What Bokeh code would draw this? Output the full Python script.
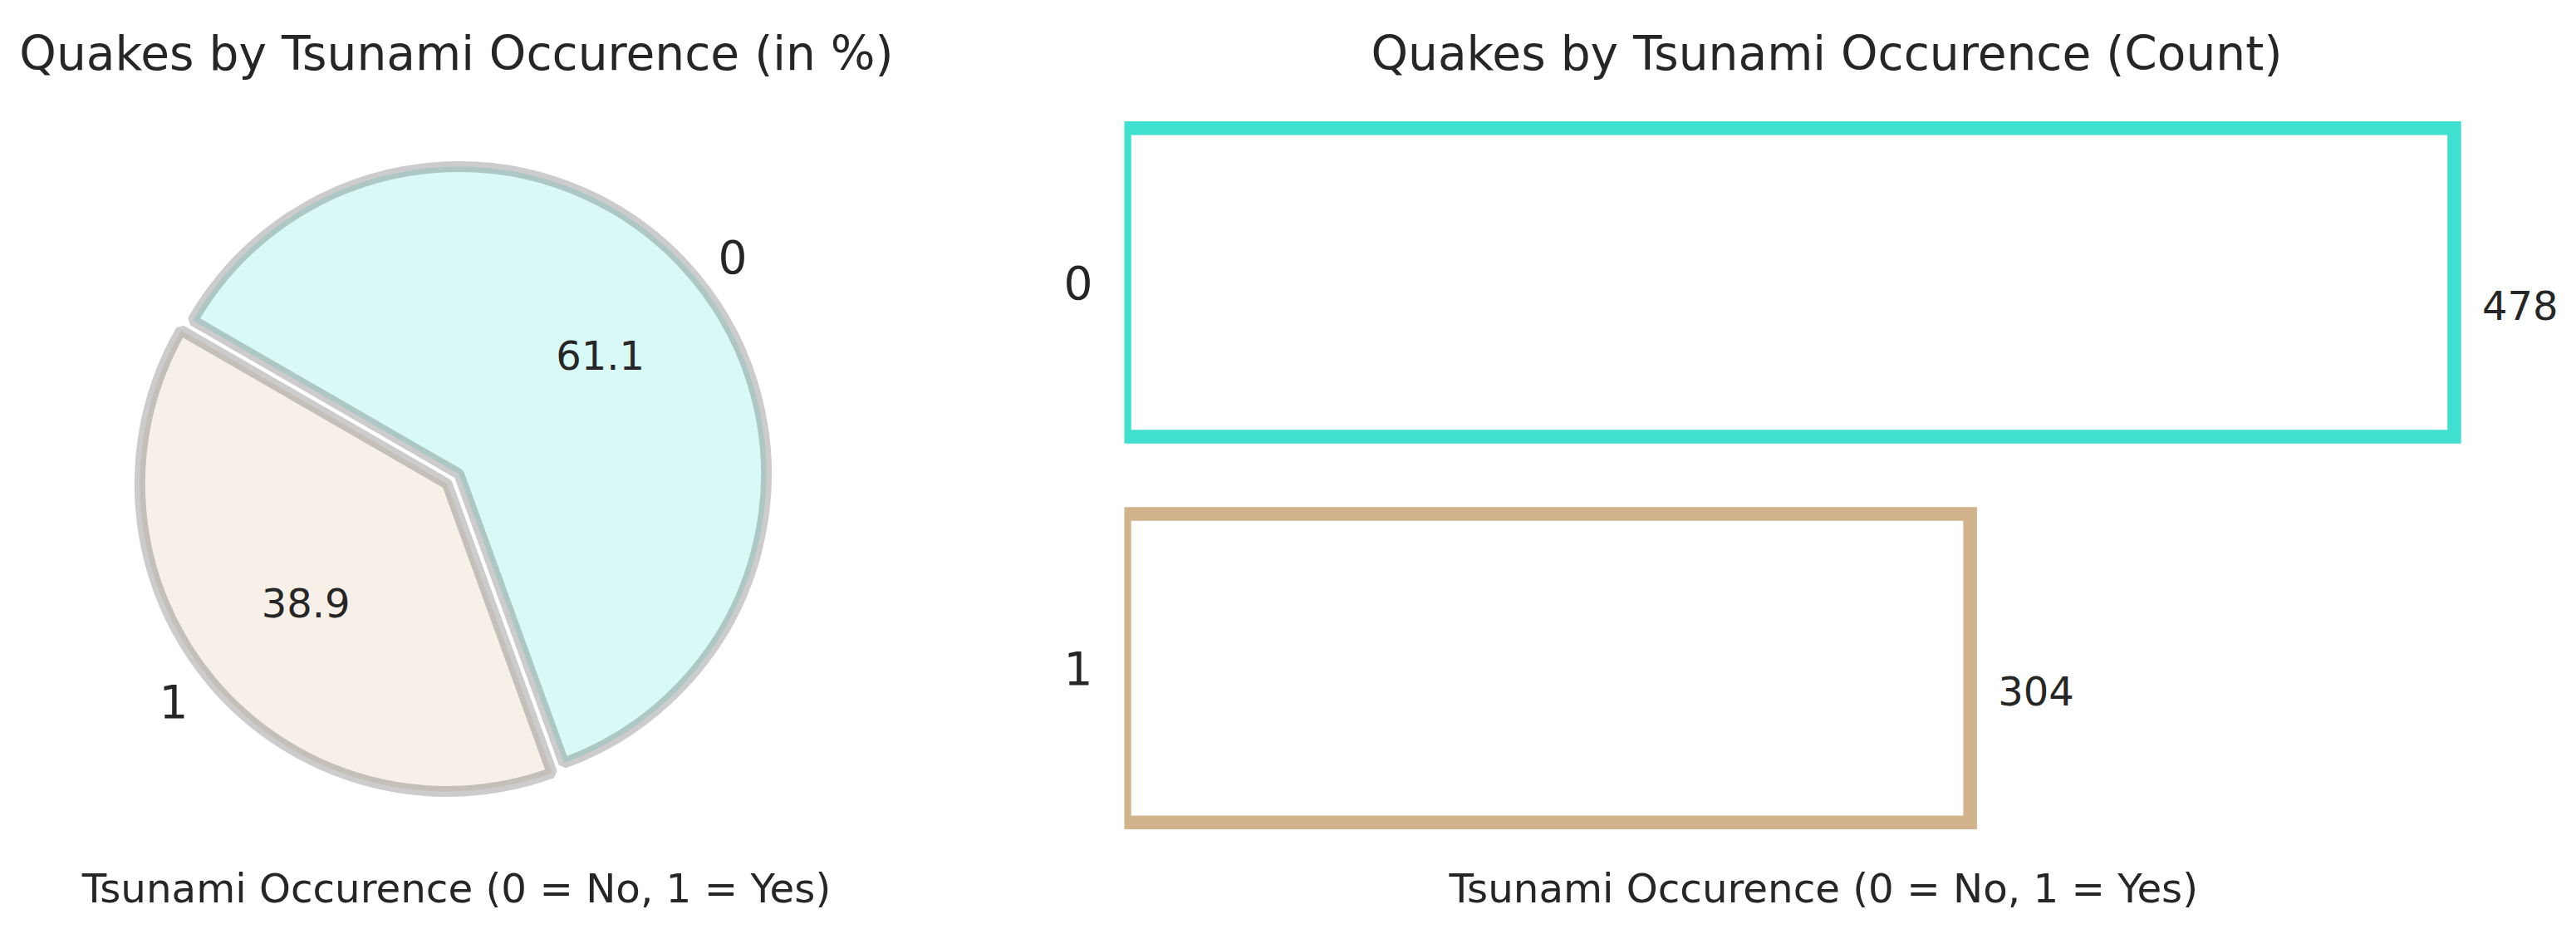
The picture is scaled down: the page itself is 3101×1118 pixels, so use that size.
import numpy as np
from bokeh.plotting import figure
from bokeh.models import Range1d, ColumnDataSource, FixedTicker, LabelSet, Title
from bokeh.layouts import row
from bokeh.embed import file_html
from bokeh.resources import INLINE
from bokeh.core.properties import value

# ---------------- data ----------------
categories = ["0", "1"]
counts = [478, 304]
colors = ["#40E0D0", "#D2B48C"]
explode = [0.0, 0.05]
start_angle_deg = 150

title_pie = "Quakes by Tsunami Occurence (in %)"
title_bar = "Quakes by Tsunami Occurence (Count)"
xlabel = "Tsunami Occurence (0 = No, 1 = Yes)"

FONT = "DejaVu Sans"
TXT = "#262626"
H = 1110

# ---------------- pie (left) ----------------
total = sum(counts)
fracs = [c / total for c in counts]
pct = [f"{f * 100:.1f}" for f in fracs]
cum = np.deg2rad(start_angle_deg)
starts, ends, mids = [], [], []
for f in fracs:
    a1 = cum
    a0 = cum - 2 * np.pi * f
    starts.append(a0)
    ends.append(a1)
    mids.append((a0 + a1) / 2)
    cum = a0
cxs = [e * np.cos(m) for e, m in zip(explode, mids)]
cys = [e * np.sin(m) for e, m in zip(explode, mids)]

W1 = 1150
R_PX = 370.0
FL, FR, FT, FB = 8, 1090, 112, 1031     # frame box in canvas px
CX, CY = 552, 570                       # pie centre in canvas px

p1 = figure(width=W1, height=H, output_backend="svg", toolbar_location=None,
            x_range=Range1d(-(CX - FL) / R_PX, (FR - CX) / R_PX),
            y_range=Range1d(-(FB - CY) / R_PX, (CY - FT) / R_PX),
            min_border_left=FL, min_border_right=W1 - FR,
            min_border_top=FT, min_border_bottom=H - FB,
            x_axis_location=None, y_axis_location=None, title=title_pie)

src = ColumnDataSource(dict(x=cxs, y=cys, start=starts, end=ends, color=colors))
p1.wedge(x="x", y="y", radius=1.0, start_angle="start", end_angle="end",
         fill_color="color", fill_alpha=0.2, line_color="black", line_alpha=0.2,
         line_width=13, source=src)

p1.text(x=[x + 0.6 * np.cos(m) for x, m in zip(cxs, mids)],
        y=[y + 0.6 * np.sin(m) for y, m in zip(cys, mids)],
        text=pct, text_align="center", text_baseline="middle",
        text_font=value(FONT), text_font_size=value("48px"), text_color=TXT)

lab_src = ColumnDataSource(dict(
    x=[x + 1.1 * np.cos(m) for x, m in zip(cxs, mids)],
    y=[y + 1.1 * np.sin(m) for y, m in zip(cys, mids)],
    text=categories,
    align=["left" if np.cos(m) > 0 else "right" for m in mids]))
p1.text(x="x", y="y", text="text", text_align="align", text_baseline="middle",
        text_font=value(FONT), text_font_size=value("55px"), text_color=TXT,
        source=lab_src)

# ---------------- bars (right) ----------------
W2 = 3085 - W1
BL, BT, BB = 203, 112, 1031
AX_R = 1884            # right end of the value axis (x = 1.05 * max)
BR = W2                # frame extended so the value labels are not clipped
ys = list(range(len(categories)))
x_end = max(counts) * 1.05 * (BR - BL) / (AX_R - BL)

p2 = figure(width=W2, height=H, output_backend="svg", toolbar_location=None,
            x_range=Range1d(0, x_end),
            y_range=Range1d(len(categories) - 1 + 0.49, -0.49),
            min_border_left=BL, min_border_right=W2 - BR,
            min_border_top=BT, min_border_bottom=H - BB,
            x_axis_location=None, title=title_bar)

p2.hbar(y=ys, left=0, right=counts, height=0.8, fill_color="white",
        line_color=colors, line_width=16.5, line_join="miter")
val_src = ColumnDataSource(dict(x=[c + 10 for c in counts],
                                y=[y + 0.06 for y in ys],
                                text=[str(c) for c in counts]))
p2.add_layout(LabelSet(x="x", y="y", text="text", source=val_src,
                       text_align="left", text_baseline="middle",
                       text_font=value(FONT), text_font_size=value("48px"),
                       text_color=TXT))

p2.yaxis.ticker = FixedTicker(ticks=ys)
p2.yaxis.major_label_overrides = {y: c for y, c in zip(ys, categories)}
p2.yaxis.axis_line_color = None
p2.yaxis.major_tick_line_color = None
p2.yaxis.minor_tick_line_color = None
p2.yaxis.major_tick_out = 0
p2.yaxis.major_label_standoff = 38
p2.yaxis.major_label_text_font = FONT
p2.yaxis.major_label_text_font_size = "55px"
p2.yaxis.major_label_text_color = TXT

# (align, offset) for title and x label of each panel
placements = {
    "p1": (("center", 0), ("center", 0)),
    "p2": (("left", 297), ("left", 391)),
}

for name, p in (("p1", p1), ("p2", p2)):
    (ta, to), (la, lo) = placements[name]
    p.outline_line_color = None
    p.grid.visible = False
    p.background_fill_color = "white"
    p.border_fill_color = "white"
    p.title.align = ta
    p.title.offset = to
    p.title.text_font = FONT
    p.title.text_font_size = "56.6px"
    p.title.text_font_style = "normal"
    p.title.text_color = TXT
    p.title.standoff = 32
    p.add_layout(Title(text=xlabel, align=la, offset=lo, standoff=14,
                       text_font=FONT, text_font_size="48.3px",
                       text_font_style="normal", text_color=TXT), "below")

layout = row(p1, p2)
open("out.html", "w").write(file_html(layout, INLINE))
